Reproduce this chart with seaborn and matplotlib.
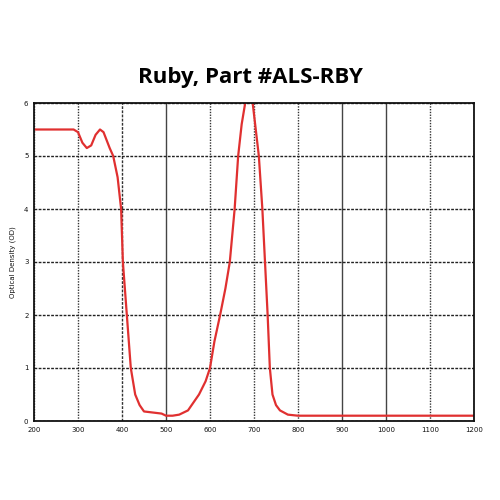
import matplotlib
matplotlib.use("Agg")
import matplotlib.pyplot as plt
import seaborn as sns
import pandas as pd

wavelength = [200, 250, 290, 300, 310, 320, 330, 340, 350, 358, 365, 372, 380, 390, 398, 402, 411, 420, 430, 440, 450, 470, 490, 500, 515, 530, 550, 575, 590, 600, 610, 623, 635, 645, 656, 664, 672, 680, 688, 697, 704, 711, 719, 725, 731, 736, 742, 750, 759, 777, 800, 900, 1000, 1100, 1200]
od = [5.5, 5.5, 5.5, 5.45, 5.25, 5.15, 5.2, 5.4, 5.5, 5.45, 5.3, 5.15, 5.0, 4.6, 4.0, 3.0, 2.0, 1.0, 0.5, 0.3, 0.18, 0.16, 0.14, 0.1, 0.1, 0.12, 0.2, 0.5, 0.75, 1.0, 1.5, 2.0, 2.5, 3.0, 4.0, 5.0, 5.6, 6.0, 6.3, 6.0, 5.5, 5.0, 4.0, 3.0, 2.0, 1.0, 0.5, 0.3, 0.2, 0.12, 0.1, 0.1, 0.1, 0.1, 0.1]
x_ticks = [200, 300, 400, 500, 600, 700, 800, 900, 1000, 1100, 1200]
y_ticks = [0, 1, 2, 3, 4, 5, 6]

df = pd.DataFrame({"wavelength": wavelength, "od": od})

sns.set_style("white")
plt.rcParams['font.family'] = ['DejaVu Sans']

fig = plt.figure(figsize=(5, 5), dpi=100)
ax = fig.add_axes([0.068, 0.158, 0.88, 0.636])
sns.lineplot(data=df, x="wavelength", y="od", ax=ax, color="#e03030", linewidth=1.6, sort=False)

ax.set_xlim(200, 1200)
ax.set_ylim(0, 6)
ax.set_xticks(x_ticks)
ax.set_yticks(y_ticks)
ax.set_xticklabels([str(t) for t in x_ticks], fontsize=5, color="#111111")
ax.set_yticklabels([str(t) for t in y_ticks], fontsize=5, color="#111111")
ax.tick_params(length=0, pad=4)
ax.set_xlabel("")
ax.set_ylabel("Optical Density (OD)", fontsize=5, labelpad=6, color="#111111")

ax.grid(True, axis="y", color="#222222", linestyle=(0, (2, 1)), linewidth=1.0)
ax.grid(True, axis="x", color="#333333", linestyle=(0, (1, 1)), linewidth=1.0)
xlines = ax.xaxis.get_gridlines()
for i, t in enumerate(x_ticks):
    if t in (500, 900, 1000):
        xlines[i].set_linestyle("-")
        xlines[i].set_color("#444444")
    if t in (400,):
        xlines[i].set_linestyle((0, (2, 1)))
ax.set_axisbelow(True)
for s in ax.spines.values():
    s.set_color("#111111")
    s.set_linewidth(1.3)

fig.text(0.5, 0.845, "Ruby, Part #ALS-RBY", ha="center", va="center", color="black",
         fontsize=16, fontweight="bold", family=["Open Sans", "DejaVu Sans"])

fig.savefig("out.png", dpi=100, facecolor="white")
